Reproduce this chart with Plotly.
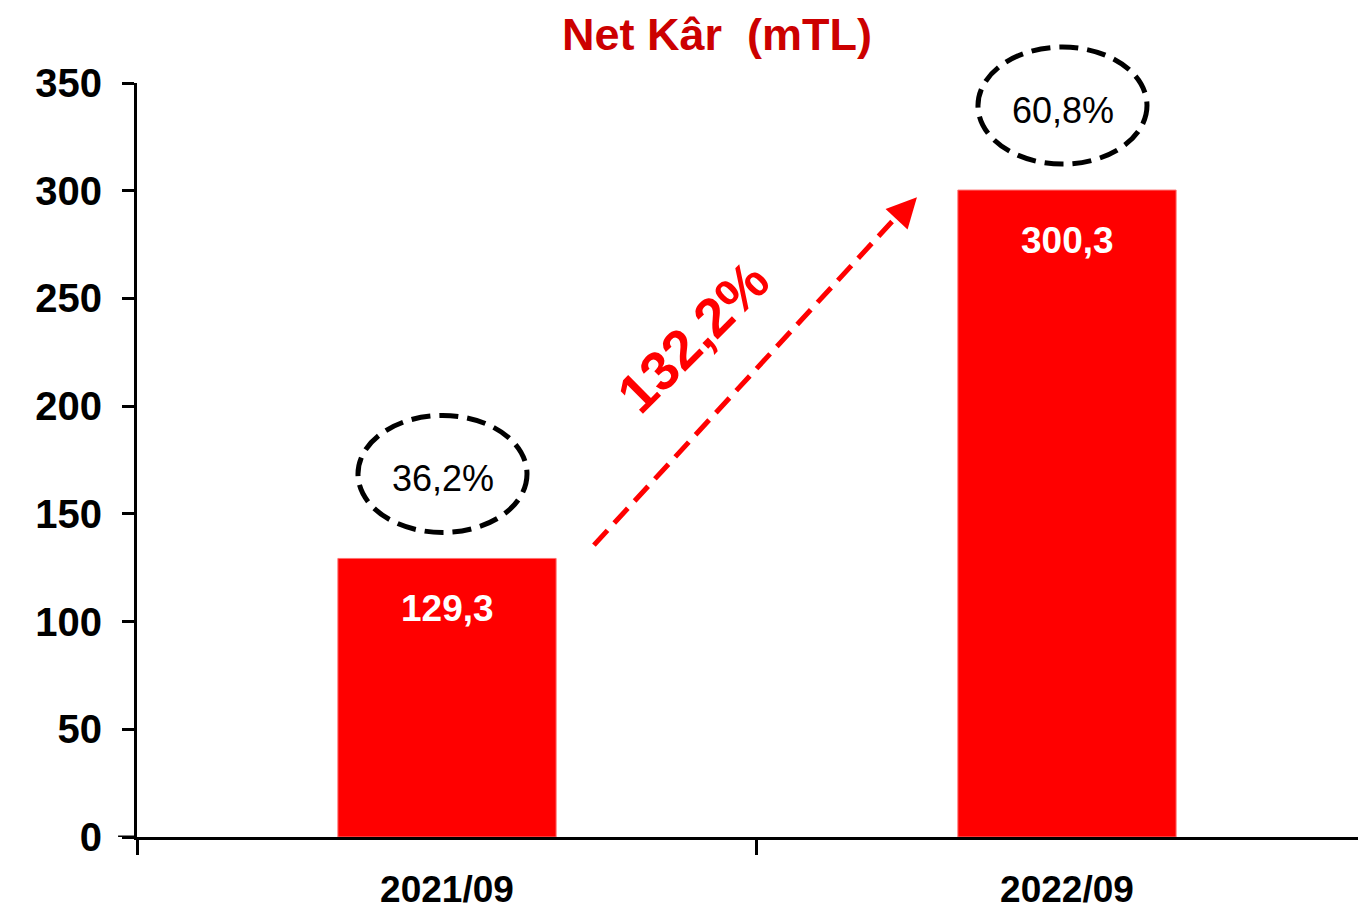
import plotly.graph_objects as go

# Net profit (million TL) for the two periods
periods = ["2021/09", "2022/09"]
net_profit = [129.3, 300.3]
margins = ["36,2%", "60,8%"]
growth_label = "132,2%"

# geometry of the growth arrow, in data coordinates (category index, value)
arrow_start = (0.237, 135.5)
arrow_shaft_end = (0.722, 287.0)
arrow_tip = (0.758, 297.0)

Y_MAX = 350
RED = "#FF0000"
TITLE_RED = "#CC0000"
FONT = "Arial, Liberation Sans, sans-serif"


def tr(v):
    return f"{v:.1f}".replace(".", ",")


fig = go.Figure()
fig.add_trace(go.Bar(
    x=periods, y=net_profit, width=0.352,
    marker=dict(color=RED, line=dict(color="#FF7070", width=1)),
    hoverinfo="skip",
))

shapes = []
annotations = []
for i, v in enumerate(net_profit):
    # value inside the bar
    annotations.append(dict(
        x=i, y=v, xref="x", yref="y", text=f"<b>{tr(v)}</b>", showarrow=False,
        yanchor="middle", yshift=-50, xshift=1,
        font=dict(family=FONT, size=37, color="white"),
    ))
    # margin inside dashed ellipse above the bar (paper y so it is not clipped)
    shapes.append(dict(
        type="circle", xref="x", yref="paper",
        xsizemode="pixel", ysizemode="pixel", xanchor=i, yanchor=v / Y_MAX,
        x0=-89, x1=80, y0=26, y1=143,
        line=dict(color="black", width=5, dash="19px,9px"),
    ))
    annotations.append(dict(
        x=i, y=v, xref="x", yref="y", text=margins[i], showarrow=False,
        yanchor="middle", yshift=80, xshift=-4,
        font=dict(family=FONT, size=36, color="black"),
    ))

# dashed growth arrow
shapes.append(dict(
    type="line", xref="x", yref="y",
    x0=arrow_start[0], y0=arrow_start[1], x1=arrow_shaft_end[0], y1=arrow_shaft_end[1],
    line=dict(color=RED, width=5, dash="20px,10px"),
))
annotations.append(dict(
    x=arrow_tip[0], y=arrow_tip[1], xref="x", yref="y", text="",
    showarrow=True, arrowhead=2, arrowsize=1.2, arrowwidth=5, arrowcolor=RED,
    ax=-10, ay=10.8, standoff=0,
))
annotations.append(dict(
    x=0.397, y=232, xref="x", yref="y", text=f"<b>{growth_label}</b>",
    showarrow=False, textangle=-45,
    font=dict(family=FONT, size=55, color=RED),
))

# small extension of the x axis line to the left of the y axis
shapes.append(dict(
    type="line", xref="paper", yref="y", x0=-0.0155, x1=0, y0=0, y1=0,
    line=dict(color="black", width=3),
))

fig.update_layout(
    width=1358, height=914,
    margin=dict(l=137, r=0, t=83, b=77),
    plot_bgcolor="white", paper_bgcolor="white",
    showlegend=False,
    title=dict(
        text="<b>Net Kâr \u00a0(mTL)</b>",
        x=0.528, xanchor="center", y=0.962, yanchor="middle",
        font=dict(family=FONT, size=45, color=TITLE_RED),
    ),
    shapes=shapes, annotations=annotations,
)
fig.update_xaxes(
    type="category", range=[-0.5, 1.4694],
    showline=True, linecolor="black", linewidth=3,
    ticks="outside", tickson="boundaries", ticklen=15, tickwidth=3, tickcolor="black",
    showgrid=False, zeroline=False,
    tickfont=dict(family=FONT, size=37, color="black"),
    ticklabelstandoff=18,
    tickvals=periods, ticktext=[f"<b>{p}</b>" for p in periods],
)
fig.update_yaxes(
    range=[0, Y_MAX],
    showline=True, linecolor="black", linewidth=3,
    ticks="outside", ticklen=12, tickwidth=3, tickcolor="black",
    showgrid=False, zeroline=False,
    tickfont=dict(family=FONT, size=40, color="black"),
    ticklabelstandoff=12,
    tickvals=list(range(0, Y_MAX + 1, 50)),
    ticktext=[f"<b>{t}</b>" for t in range(0, Y_MAX + 1, 50)],
)

fig.write_html("out.html")
